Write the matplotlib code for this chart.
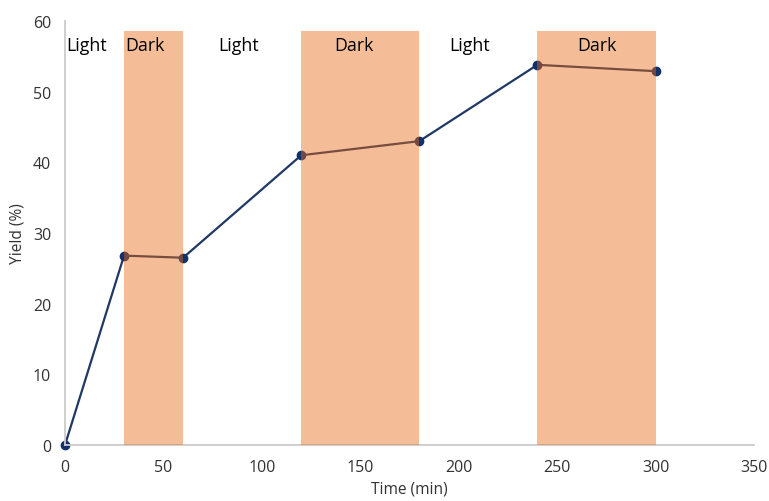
import matplotlib
matplotlib.use("Agg")
import matplotlib.pyplot as plt

time_min = [0, 30, 60, 120, 180, 240, 300]
yield_pct = [0, 26.8, 26.5, 41.0, 43.0, 53.8, 52.9]
dark_starts = [30, 120, 240]
dark_ends = [60, 180, 300]
region_labels = ["Light", "Dark", "Light", "Dark", "Light", "Dark"]
label_x = [10.7, 40.6, 88.4, 147, 205.7, 270]

plt.rcParams['font.family'] = ['Open Sans', 'DejaVu Sans']

fig = plt.figure(figsize=(7.69, 5.02), dpi=100)
ax = fig.add_axes([65/769, 1-446/502, (754-65)/769, (446-22)/502])

navy = '#1F3864'
ax.plot(time_min, yield_pct, color=navy, lw=1.6, marker='o', markersize=6,
        markerfacecolor='#12306a', markeredgecolor='#12306a', zorder=2, clip_on=False)

top = 58.6
for s, e in zip(dark_starts, dark_ends):
    ax.fill_between([s, e], 0, top, color='#EA6A14', alpha=0.44, lw=0, zorder=3)

for lx, lab in zip(label_x, region_labels):
    ax.text(lx, 56.6, lab, ha='center', va='center', fontsize=12.8, color='black', zorder=4)

ax.set_xlim(0, 350)
ax.set_ylim(0, 60)
ax.set_xticks(range(0, 351, 50))
ax.set_yticks(range(0, 61, 10))
for sp in ['top', 'right']:
    ax.spines[sp].set_visible(False)
for sp in ['left', 'bottom']:
    ax.spines[sp].set_color('#CCCCCC')
    ax.spines[sp].set_linewidth(1.3)
ax.tick_params(length=0, labelsize=11.5, labelcolor='#333333', pad=10)
ax.set_xlabel('Time (min)', fontsize=11.2, color='#333333', labelpad=4)
ax.set_ylabel('Yield (%)', fontsize=11.2, color='#333333')
ax.yaxis.set_label_coords(-0.058, 0.5)

fig.savefig('out.png', dpi=100)
